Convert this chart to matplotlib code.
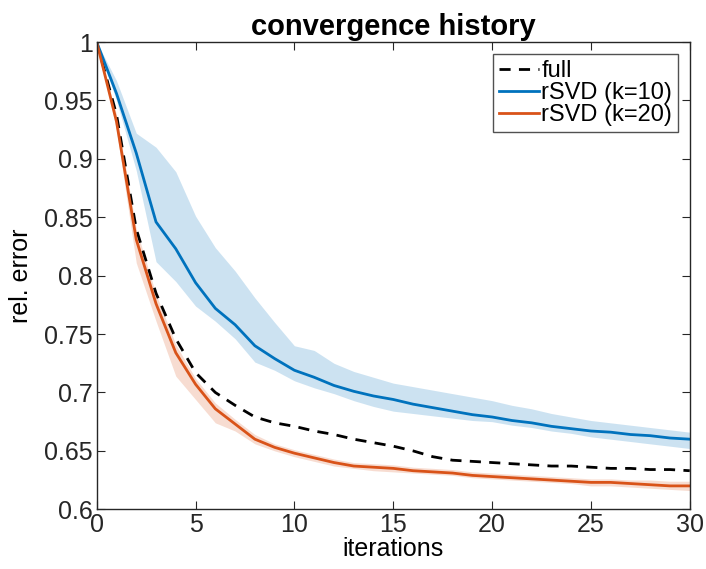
import matplotlib
matplotlib.use("Agg")
import matplotlib.pyplot as plt
import numpy as np

# ── data ─────────────────────────────────────────────────────────────────────
iterations = np.arange(0, 31)

full = [1.0, 0.938, 0.840, 0.785, 0.746, 0.717, 0.700, 0.689, 0.679, 0.674,
        0.671, 0.667, 0.664, 0.660, 0.657, 0.654, 0.650, 0.645, 0.642, 0.641,
        0.640, 0.639, 0.638, 0.637, 0.637, 0.636, 0.635, 0.635, 0.634, 0.634, 0.633]

k10_mean = [1.0, 0.956, 0.905, 0.846, 0.823, 0.794, 0.772, 0.758, 0.740, 0.729,
            0.719, 0.713, 0.706, 0.701, 0.697, 0.694, 0.690, 0.687, 0.684, 0.681,
            0.679, 0.676, 0.674, 0.671, 0.669, 0.667, 0.666, 0.664, 0.663, 0.661, 0.660]
k10_upper = [1.0, 0.967, 0.922, 0.910, 0.889, 0.851, 0.824, 0.804, 0.781, 0.760,
             0.740, 0.736, 0.725, 0.718, 0.713, 0.708, 0.705, 0.702, 0.699, 0.696,
             0.693, 0.689, 0.686, 0.682, 0.679, 0.676, 0.674, 0.672, 0.670, 0.668, 0.666]
k10_lower = [1.0, 0.950, 0.890, 0.812, 0.795, 0.774, 0.761, 0.746, 0.726, 0.719,
             0.710, 0.704, 0.699, 0.693, 0.688, 0.684, 0.682, 0.680, 0.678, 0.676,
             0.675, 0.672, 0.670, 0.667, 0.665, 0.662, 0.660, 0.658, 0.656, 0.654, 0.652]

k20_mean = [1.0, 0.932, 0.831, 0.776, 0.734, 0.707, 0.686, 0.673, 0.660, 0.653,
            0.648, 0.644, 0.640, 0.637, 0.636, 0.635, 0.633, 0.632, 0.631, 0.629,
            0.628, 0.627, 0.626, 0.625, 0.624, 0.623, 0.623, 0.622, 0.621, 0.620, 0.620]
k20_upper = [1.0, 0.938, 0.840, 0.784, 0.741, 0.712, 0.691, 0.677, 0.664, 0.656,
             0.651, 0.647, 0.643, 0.640, 0.639, 0.638, 0.636, 0.635, 0.634, 0.632,
             0.631, 0.630, 0.629, 0.628, 0.627, 0.626, 0.626, 0.625, 0.625, 0.624, 0.624]
k20_lower = [1.0, 0.925, 0.811, 0.761, 0.714, 0.694, 0.674, 0.667, 0.656, 0.650,
             0.645, 0.641, 0.637, 0.635, 0.633, 0.632, 0.631, 0.630, 0.629, 0.627,
             0.626, 0.625, 0.624, 0.623, 0.622, 0.620, 0.620, 0.619, 0.618, 0.617, 0.616]

BLUE = "#0072BD"
ORANGE = "#D95319"

plt.rcParams.update({
    "font.family": ["Liberation Sans", "DejaVu Sans"],
    "font.size": 18,
    "axes.linewidth": 1.0,
    "xtick.direction": "in", "ytick.direction": "in",
    "xtick.top": True, "ytick.right": True,
    "xtick.major.size": 6, "ytick.major.size": 6,
})

fig = plt.figure(figsize=(7.06, 5.69), dpi=100)
ax = fig.add_axes([0.137, 0.105, 0.840, 0.821])

ax.fill_between(iterations, k10_lower, k10_upper, color=BLUE, alpha=0.2, lw=0)
ax.fill_between(iterations, k20_lower, k20_upper, color=ORANGE, alpha=0.2, lw=0)
ax.plot(iterations, full, "k--", lw=2, dashes=(4, 3), label="full")
ax.plot(iterations, k10_mean, color=BLUE, lw=2, label="rSVD (k=10)")
ax.plot(iterations, k20_mean, color=ORANGE, lw=2, label="rSVD (k=20)")

ax.set_xlim(0, 30)
ax.set_ylim(0.6, 1.0)
ax.set_xticks(np.arange(0, 31, 5))
ax.set_yticks([0.6, 0.65, 0.7, 0.75, 0.8, 0.85, 0.9, 0.95, 1.0])
ax.set_yticklabels(["0.6", "0.65", "0.7", "0.75", "0.8", "0.85", "0.9", "0.95", "1"])
ax.tick_params(labelsize=18, color="#262626", labelcolor="#262626", pad=3)
for s in ax.spines.values():
    s.set_color("#262626")

ax.set_xlabel("iterations", fontsize=18, labelpad=0)
ax.set_ylabel("rel. error", fontsize=18, labelpad=8)
ax.set_title("convergence history", fontsize=21, fontweight="bold", pad=5)

leg = ax.legend(loc="upper right", fontsize=17, frameon=True, fancybox=False,
                edgecolor="#262626", handlelength=1.7, handletextpad=0.1,
                labelspacing=0.0, borderpad=0.25, borderaxespad=0.5)
leg.get_frame().set_linewidth(1.0)

fig.savefig("out.png", dpi=100)
